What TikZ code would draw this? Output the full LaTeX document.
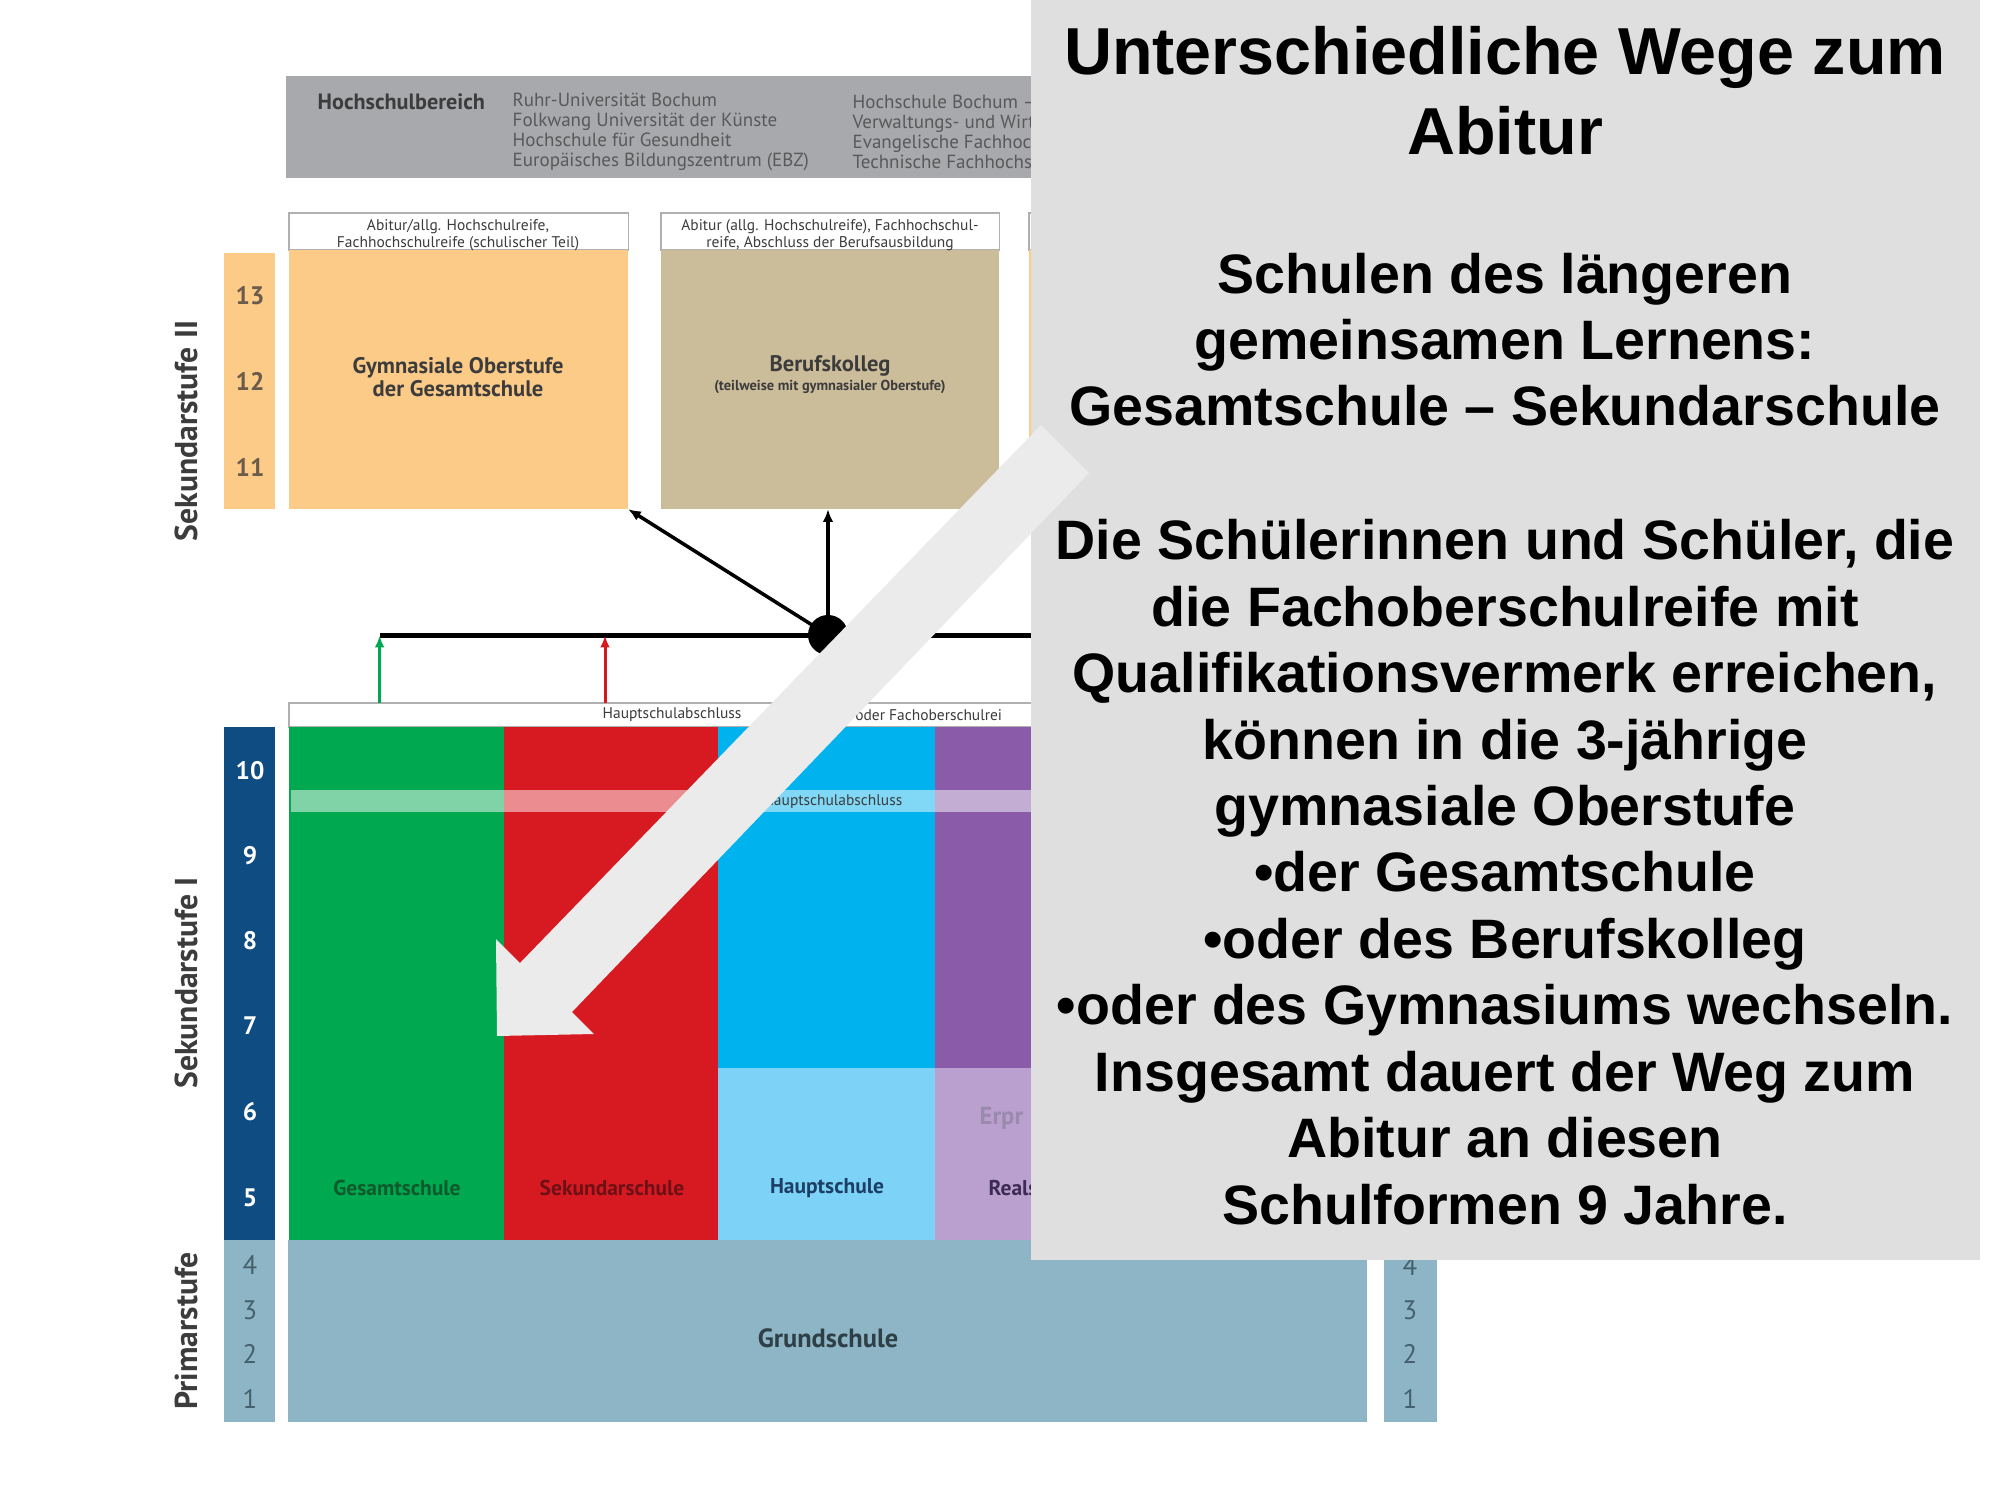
\documentclass[tikz,border=0pt]{standalone}
\usepackage{fontspec}
\setmainfont{Liberation Sans}
\newfontfamily\ptsans{PT Sans}
\usetikzlibrary{arrows.meta}
\definecolor{hsgrey}{HTML}{A7A9AC}
\definecolor{orangeb}{HTML}{FDCB88}
\definecolor{tanb}{HTML}{CCBD9A}
\definecolor{darkblueb}{HTML}{0F4C81}
\definecolor{greenb}{HTML}{00A84F}
\definecolor{redb}{HTML}{D71A21}
\definecolor{cyanb}{HTML}{00B2EE}
\definecolor{lcyanb}{HTML}{7CD3F7}
\definecolor{purpleb}{HTML}{8A5BA8}
\definecolor{lpurpleb}{HTML}{B9A0CE}
\definecolor{grundb}{HTML}{8EB5C5}
\definecolor{hdrline}{HTML}{B0B0B0}
\definecolor{txtdark}{HTML}{3C3C3C}
\definecolor{boxgrey}{HTML}{DFDFDF}
\definecolor{arrowgrey}{HTML}{EBEBEB}
\definecolor{gesc}{HTML}{0E5A2C}
\definecolor{sekc}{HTML}{6E1015}
\definecolor{hauc}{HTML}{1D3F66}
\definecolor{realc}{HTML}{3D2A55}
\definecolor{erprc}{HTML}{9A8AAE}
\definecolor{grundc}{HTML}{2E3F47}
\definecolor{sektwoc}{HTML}{6B5B4A}
\definecolor{primc}{HTML}{44606C}
\definecolor{arrgreen}{HTML}{00A650}
\definecolor{arrred}{HTML}{D7191F}
\tikzset{
  blk/.style={rectangle, inner sep=0pt, outer sep=0pt, anchor=north west, draw=none},
  hdr/.style={blk, fill=white, draw=hdrline, line width=0.4pt},
  hdrtxt/.style={font=\ptsans\fontsize{4.4}{4.7}\selectfont, text=txtdark, align=center, inner sep=0pt},
  boxtxt/.style={font=\ptsans\bfseries\fontsize{6.4}{6.4}\selectfont, text=txtdark, align=center, inner sep=0pt},
  coltxt/.style={font=\ptsans\bfseries\fontsize{6.1}{7}\selectfont, inner sep=0pt},
  hstxt/.style={font=\ptsans\fontsize{5.4}{5.69}\selectfont, text=txtdark!85, align=left, anchor=west, inner sep=0pt},
  grade/.style={font=\ptsans\bfseries\fontsize{7.2}{8}\selectfont, inner sep=0pt},
  pgrade/.style={font=\ptsans\fontsize{7.6}{8}\selectfont, text=primc, inner sep=0pt},
  stage/.style={font=\ptsans\bfseries\fontsize{9}{10}\selectfont, text=txtdark, rotate=90, inner sep=0pt},
  titletxt/.style={font=\bfseries\fontsize{18.9}{22.6}\selectfont, anchor=base, inner sep=0pt},
  bodytxt/.style={font=\bfseries\fontsize{15.8}{18.9}\selectfont, anchor=base, inner sep=0pt},
  thinarrow/.style={line width=0.85pt, -{Latex[length=3.4pt,width=2.8pt]}},
}
\begin{document}
\begin{tikzpicture}[x=0.01cm,y=-0.01cm]
\useasboundingbox (0,0) rectangle (2000,1500);
\fill[white] (0,0) rectangle (2000,1500);

\begin{scope}
\clip (0,0) -- (1031,0) -- (1031,1259) -- (2000,1259) -- (2000,1500) -- (0,1500) -- cycle;
% Hochschulbereich
\node[blk, fill=hsgrey, minimum width=8.5cm, minimum height=1.02cm] (hs) at (286,76) {};
\node[font=\ptsans\bfseries\fontsize{6.3}{7}\selectfont, text=txtdark, anchor=west, inner sep=0pt] (hstitle) at (317,102) {Hochschulbereich};
\node[hstxt] (hsone) at (512,131.7) {Ruhr-Universität Bochum\\Folkwang Universität der Künste\\Hochschule für Gesundheit\\Europäisches Bildungszentrum (EBZ)};
\node[hstxt] (hstwo) at (852,131.7) {Hochschule Bochum –\\Verwaltungs- und Wirt\\Evangelische Fachhoc\\Technische Fachhochs};

% Sekundarstufe II
\node[blk, fill=orangeb, minimum width=0.51cm, minimum height=2.56cm] (sektwocol) at (224,253) {};
\node[grade, text=sektwoc] (gthirteen) at (250,296) {13};
\node[grade, text=sektwoc] (gtwelve) at (250,381.5) {12};
\node[grade, text=sektwoc] (geleven) at (250,467) {11};
\node[stage] (lsektwo) at (186,431) {Sekundarstufe II};

\node[hdr, minimum width=3.39cm, minimum height=0.37cm] (gymhead) at (289,213) {};
\node[blk, fill=orangeb, minimum width=3.39cm, minimum height=2.59cm] (gym) at (289,250) {};
\node[hdrtxt] (gymheadtxt) at (458,235) {Abitur/allg. Hochschulreife,\\Fachhochschulreife (schulischer Teil)};
\node[boxtxt] (gymtxt) at (458,377) {Gymnasiale Oberstufe\\der Gesamtschule};

\node[hdr, minimum width=3.38cm, minimum height=0.37cm] (berhead) at (661,213) {};
\node[blk, fill=tanb, minimum width=3.38cm, minimum height=2.59cm] (ber) at (661,250) {};
\node[hdrtxt] (berheadtxt) at (830,235) {Abitur (allg. Hochschulreife), Fachhochschul-\\reife, Abschluss der Berufsausbildung};
\node[boxtxt] (bertxt) at (830,366) {Berufskolleg};
\node[font=\ptsans\bfseries\fontsize{4.1}{4.5}\selectfont, text=txtdark, inner sep=0pt] (bersub) at (830,387) {(teilweise mit gymnasialer Oberstufe)};

\node[hdr, minimum width=3.39cm, minimum height=0.37cm] (gymnhead) at (1029,213) {};
\node[blk, fill=orangeb, minimum width=3.39cm, minimum height=2.59cm] (gymn) at (1029,250) {};

% Connectors
\coordinate (lineL) at (379.6,635.5);
\coordinate (lineR) at (1400,635.5);
\draw[line width=1.2pt] (lineL) -- (lineR);
\node[circle, fill=black, inner sep=0pt, minimum size=0.4cm] (dot) at (828,635) {};
\draw[line width=1pt, -{Latex[length=3.6pt,width=3pt]}] (dot.center) -- (dot.center |- ber.south);
\draw[line width=1pt, -{Latex[length=3.6pt,width=3pt]}] (dot.center) -- (gym.south east);

% Sekundarstufe I
\node[hdr, minimum width=10.77cm, minimum height=0.24cm] (sekonehead) at (289,703) {};
\coordinate (greenS) at (379.6,703);
\coordinate (redS) at (605,703);
\coordinate (redE) at (605,635.5);
\draw[thinarrow, arrgreen] (greenS) -- (lineL);
\draw[thinarrow, arrred] (redS) -- (redE);
\node[font=\ptsans\fontsize{4.4}{4.7}\selectfont, text=txtdark, anchor=west, inner sep=0pt] (hdrone) at (602,715) {Hauptschulabschluss};
\node[font=\ptsans\fontsize{4.4}{4.7}\selectfont, text=txtdark, anchor=west, inner sep=0pt] (hdrtwo) at (842,715) {0 oder Fachoberschulrei};

\node[blk, fill=darkblueb, minimum width=0.51cm, minimum height=5.13cm] (sekonecol) at (224,727) {};
\node[grade, text=white] (gten) at (250,771) {10};
\node[grade, text=white] (gnine) at (250,856) {9};
\node[grade, text=white] (geight) at (250,941) {8};
\node[grade, text=white] (gseven) at (250,1026) {7};
\node[grade, text=white] (gsix) at (250,1112) {6};
\node[grade, text=white] (gfive) at (250,1198) {5};
\node[stage] (lsekone) at (186,983) {Sekundarstufe I};

\node[blk, fill=greenb, minimum width=2.15cm, minimum height=5.13cm] (ges) at (289,727) {};
\node[blk, fill=redb, minimum width=2.14cm, minimum height=5.13cm] (sek) at (504,727) {};
\node[blk, fill=cyanb, minimum width=2.17cm, minimum height=3.41cm] (hau) at (718,727) {};
\node[blk, fill=lcyanb, minimum width=2.17cm, minimum height=1.72cm] (haulow) at (718,1068) {};
\node[blk, fill=purpleb, minimum width=2.15cm, minimum height=3.41cm] (real) at (935,727) {};
\node[blk, fill=lpurpleb, minimum width=2.15cm, minimum height=1.72cm] (reallow) at (935,1068) {};
\node[blk, fill=white, fill opacity=0.5, minimum width=8.59cm, minimum height=0.22cm] (band) at (291,790) {};
\node[font=\ptsans\fontsize{4.4}{4.7}\selectfont, text=txtdark, anchor=east, inner sep=0pt] (bandtxt) at (903,801.5) {Hauptschulabschluss};

\node[coltxt, text=gesc] (gestxt) at (397,1188) {Gesamtschule};
\node[coltxt, text=sekc] (sektxt) at (612,1188) {Sekundarschule};
\node[coltxt, text=hauc] (hautxt) at (827,1188) {Hauptschule};
\node[coltxt, text=realc, anchor=west] (realtxt) at (988,1188) {Reals};
\node[font=\ptsans\bfseries\fontsize{7}{8}\selectfont, text=erprc, anchor=west, inner sep=0pt] (erprtxt) at (979,1118) {Erpr};

% Primarstufe
\node[blk, fill=grundb, minimum width=0.51cm, minimum height=1.82cm] (primcol) at (224,1240) {};
\node[pgrade] (pfour) at (250,1265) {4};
\node[pgrade] (pthree) at (250,1310) {3};
\node[pgrade] (ptwo) at (250,1354) {2};
\node[pgrade] (pone) at (250,1399) {1};
\node[stage] (lprim) at (186,1331) {Primarstufe};
\node[blk, fill=grundb, minimum width=10.78cm, minimum height=1.82cm] (grund) at (288,1240) {};
\node[font=\ptsans\bfseries\fontsize{7.5}{8}\selectfont, text=grundc, inner sep=0pt] (grundtxt) at (828,1338) {Grundschule};
\node[blk, fill=grundb, minimum width=0.53cm, minimum height=1.82cm] (rcol) at (1384,1240) {};
\node[pgrade] (rfour) at (1410,1266) {4};
\node[pgrade] (rthree) at (1410,1310) {3};
\node[pgrade] (rtwo) at (1410,1354) {2};
\node[pgrade] (rone) at (1410,1399) {1};
\end{scope}

% Grey text box
\node[blk, fill=boxgrey, minimum width=9.48cm, minimum height=12.59cm] (greybox) at (1031,0) {};

% Big arrow
\fill[arrowgrey] (1041,425) -- (520,963) -- (496,939) -- (497,1036) -- (594,1034) -- (572,1012) -- (1089,473) -- cycle;

% Text
\node[titletxt] (tone) at (1505,75) {Unterschiedliche Wege zum};
\node[titletxt] (ttwo) at (1505,155) {Abitur};
\node[bodytxt] (bone) at (1505,293) {Schulen des längeren};
\node[bodytxt] (btwo) at (1505,359.4) {gemeinsamen Lernens:};
\node[bodytxt] (bthree) at (1505,425.8) {Gesamtschule – Sekundarschule};
\node[bodytxt] (bfour) at (1505,559.7) {Die Schülerinnen und Schüler, die};
\node[bodytxt] (bfive) at (1505,626.1) {die Fachoberschulreife mit};
\node[bodytxt] (bsix) at (1505,692.5) {Qualifikationsvermerk erreichen,};
\node[bodytxt] (bseven) at (1505,759) {können in die 3-jährige};
\node[bodytxt] (beight) at (1505,825.4) {gymnasiale Oberstufe};
\node[bodytxt] (bnine) at (1505,891.9) {•der Gesamtschule};
\node[bodytxt] (bten) at (1505,958.3) {•oder des Berufskolleg};
\node[bodytxt] (beleven) at (1505,1024.8) {•oder des Gymnasiums wechseln.};
\node[bodytxt] (btwelve) at (1505,1091.2) {Insgesamt dauert der Weg zum};
\node[bodytxt] (bthirteen) at (1505,1157.7) {Abitur an diesen};
\node[bodytxt] (bfourteen) at (1505,1224.1) {Schulformen 9 Jahre.};
\end{tikzpicture}
\end{document}
